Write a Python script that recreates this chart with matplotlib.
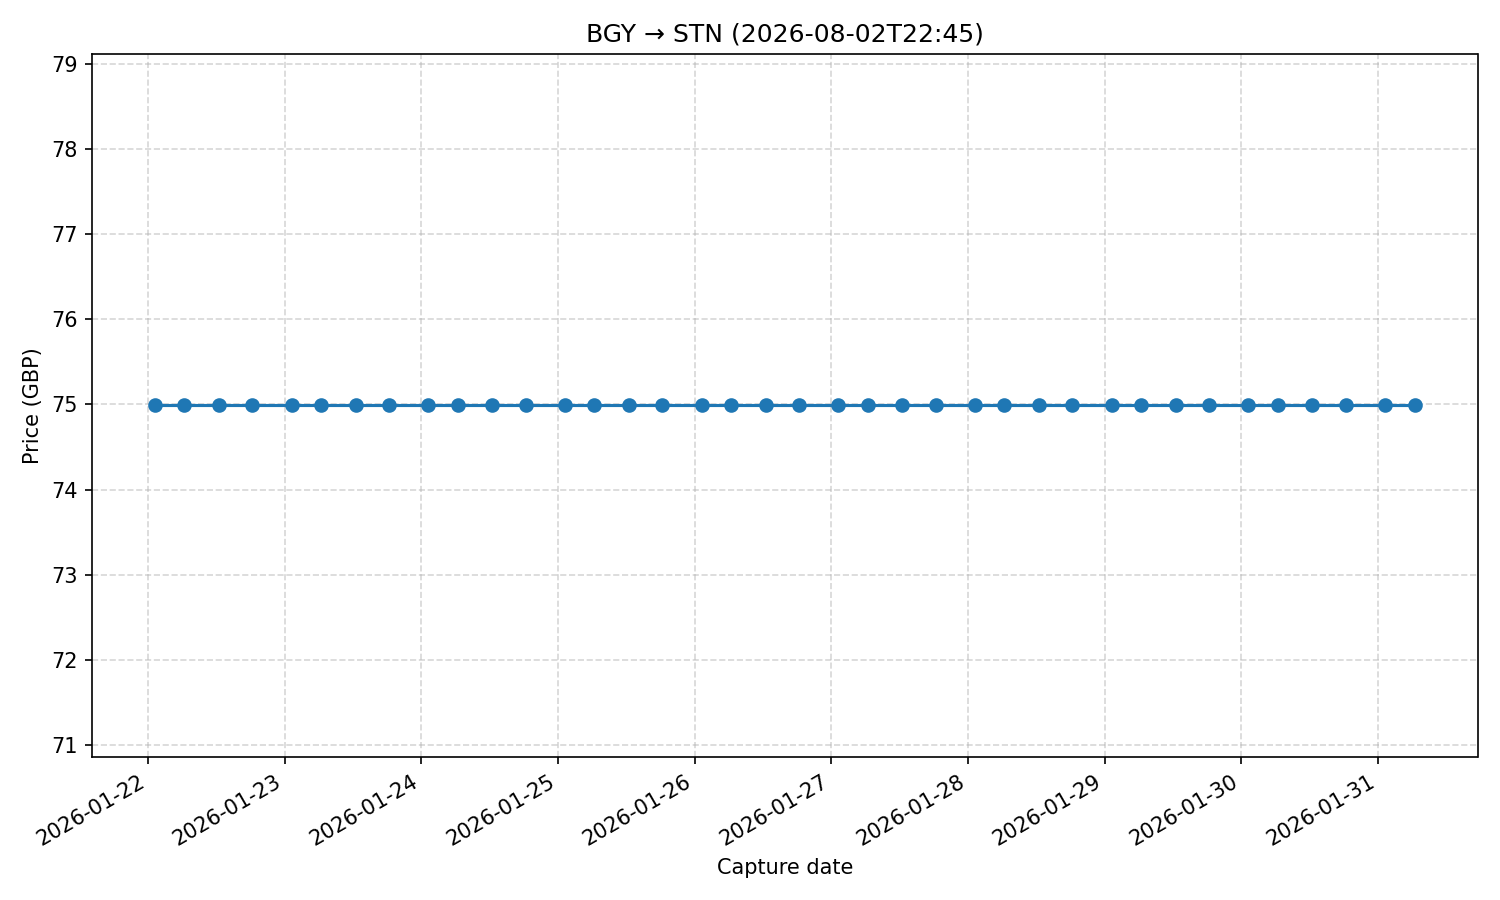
from datetime import datetime

import matplotlib
matplotlib.use("Agg")
import matplotlib.pyplot as plt

# capture times (hour, minute) for each day
days = [22, 23, 24, 25, 26, 27, 28, 29, 30, 31]
slot_times = [(1, 15), (6, 25), (12, 30), (18, 20)]
last_day_slots = 2

capture_dates = []
for d in days:
    slots = slot_times if d != days[-1] else slot_times[:last_day_slots]
    for h, m in slots:
        capture_dates.append(datetime(2026, 1, d, h, m))

prices = [74.99] * len(capture_dates)

fig, ax = plt.subplots(figsize=(10, 6), dpi=150)
ax.plot(capture_dates, prices, marker='o')

ax.set_title('BGY \u2192 STN (2026-08-02T22:45)')
ax.set_xlabel('Capture date')
ax.set_ylabel('Price (GBP)')
ax.grid(True, linestyle='--', alpha=0.5)
fig.autofmt_xdate()
fig.tight_layout()
fig.savefig('out.png', dpi=150)
